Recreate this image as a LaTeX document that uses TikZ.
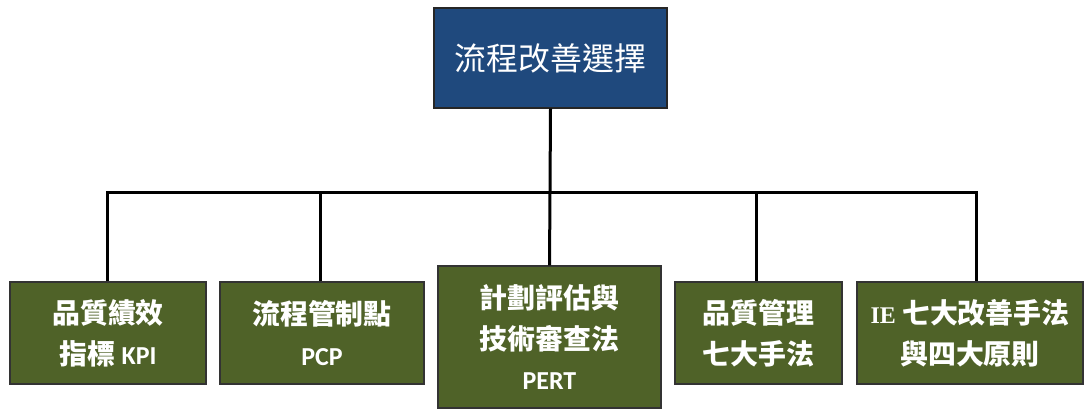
\documentclass[tikz,border=0pt]{standalone}
\usepackage{fontspec}
\newfontfamily\cjk{Noto Sans CJK TC}
\newfontfamily\lat{Carlito}
\newfontfamily\ser{Liberation Serif}
\definecolor{topblue}{HTML}{1F497D}
\definecolor{leafgreen}{HTML}{4F6228}
\newcommand{\abbrfont}{\lat\bfseries\fontsize{26}{41}\selectfont}
\begin{document}
\begin{tikzpicture}[x=1bp,y=-1bp,
  topbox/.style={draw=black!85, line width=1.3bp, fill=topblue, text=white,
    font=\cjk\fontsize{32}{38}\selectfont, inner sep=0pt,
    minimum width=233bp, minimum height=100bp},
  leaf/.style={draw=black!80, line width=1.3bp, fill=leafgreen, text=white,
    font=\cjk\bfseries\fontsize{28}{41}\selectfont, align=center, inner sep=0pt,
    minimum height=102bp},
  conn/.style={line width=3bp, black, line join=miter}]
\useasboundingbox (0,0) rectangle (1089,410);
\node[topbox] (top) at (550.5,58) {流程改善選擇};
\node[leaf, minimum width=196bp] (b1) at (108,333)
  {品質績效\\指標 {\abbrfont KPI}};
\node[leaf, minimum width=204bp] (b2) at (322,333)
  {流程管制點\\{\abbrfont PCP}};
\node[leaf, minimum width=223bp, minimum height=142bp] (b3) at (549.5,337)
  {計劃評估與\\技術審查法\\{\abbrfont PERT}};
\node[leaf, minimum width=167bp] (b4) at (758.5,333)
  {品質管理\\七大手法};
\node[leaf, minimum width=226bp] (b5) at (970,333)
  {{\ser\bfseries\fontsize{24}{41}\selectfont IE} 七大改善手法\\與四大原則};
\coordinate (hub) at (550,192);
\coordinate (j1) at (107,192);
\coordinate (j2) at (320,192);
\coordinate (j4) at (756,192);
\coordinate (j5) at (976,192);
\draw[conn] (top.south) -- (hub) -- (b3.north);
\draw[conn] (j1 |- b1.north) -- (j1) -- (j5) -- (j5 |- b5.north);
\draw[conn] (j2) -- (j2 |- b2.north);
\draw[conn] (j4) -- (j4 |- b4.north);
\end{tikzpicture}
\end{document}
